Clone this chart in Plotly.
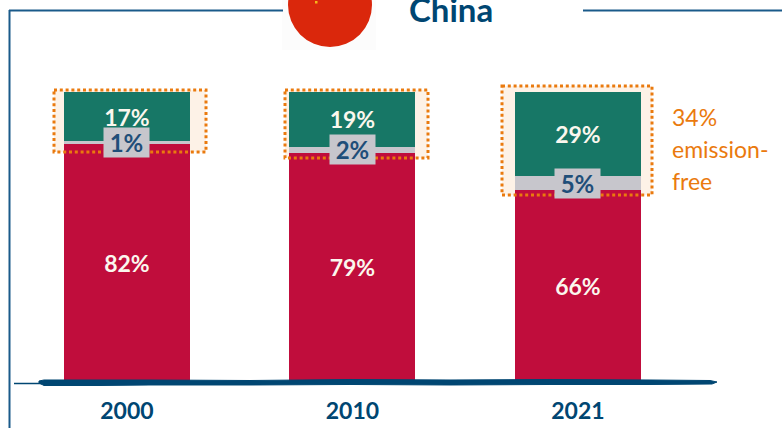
import plotly.graph_objects as go

W, H = 782, 428
years = ["2000", "2010", "2021"]
fossil = [82, 79, 66]
nuclear = [1, 2, 5]
renewables = [17, 19, 29]

RED, GREEN, GREY = "#c00d3c", "#177766", "#c7c6cc"
NAVY, FRAME, ORANGE = "#004672", "#1a5a8a", "#ea7a0e"
LABEL_BLUE = "#1f4e79"
FONT = "Lato"


def px(x):
    return x / W


def py(y):
    return 1 - y / H


def pct(vals):
    return [f"{v}%" for v in vals]


fig = go.Figure()
for name, vals, color, text in [
    ("Fossil", fossil, RED, pct(fossil)),
    ("Nuclear", nuclear, GREY, None),
    ("Renewables", renewables, GREEN, pct(renewables)),
]:
    fig.add_bar(
        x=years, y=vals, name=name, marker=dict(color=color, line=dict(width=0)),
        text=text, textposition="inside" if text else None,
        textangle=0, insidetextanchor="middle", constraintext="none",
        insidetextfont=dict(family=FONT, size=23, color="#fbf7ee", weight="bold"),
        hoverinfo="skip",
    )

annotations = []
for i, (f, n) in enumerate(zip(fossil, nuclear)):
    annotations.append(dict(
        x=i, y=f + n / 2, xref="x", yref="y", text=f"{n}%", showarrow=False,
        width=43, height=27, bgcolor=GREY, valign="middle",
        font=dict(family=FONT, size=24, color=LABEL_BLUE, weight="bold"),
    ))

annotations.append(dict(
    x=px(407), y=py(31), xref="paper", yref="paper", xanchor="left", yanchor="bottom",
    text="<b>China</b>", showarrow=False,
    font=dict(family=FONT, size=33, color=NAVY),
))
for txt, yy in [("34%", 117), ("emission-", 149), ("free", 181)]:
    annotations.append(dict(
        x=px(670), y=py(yy), xref="paper", yref="paper", xanchor="left", yanchor="middle",
        text=txt, showarrow=False, font=dict(family=FONT, size=23, color=ORANGE),
    ))


def pline(x0, y0, x1, y1, color, width):
    return dict(type="line", xref="paper", yref="paper", x0=px(x0), y0=py(y0), x1=px(x1), y1=py(y1),
                line=dict(color=color, width=width), layer="above")


shapes = [
    pline(9, 10.5, 283, 10.5, FRAME, 2),
    pline(583, 10.5, 782, 10.5, FRAME, 2),
    pline(9.5, 10, 9.5, 428, FRAME, 2),
    pline(14, 383.5, 42, 383.5, NAVY, 1.5),
    # pale flag background, flag disc, star
    dict(type="rect", xref="paper", yref="paper", x0=px(282), x1=px(376), y0=py(0), y1=py(50),
         fillcolor="#fcfcfc", line=dict(width=0), layer="below"),
    dict(type="circle", xref="paper", yref="paper", x0=px(288), x1=px(372), y0=py(-37), y1=py(47),
         fillcolor="#da270c", line=dict(width=0), layer="below"),
    dict(type="rect", xref="paper", yref="paper", x0=px(315), x1=px(317.5), y0=py(1), y1=py(3.5),
         fillcolor="#f5b81a", line=dict(width=0), layer="above"),
]

# rough brush-like axis stroke
top = [(39, 381), (44, 380), (150, 380), (250, 380.5), (350, 379.5), (450, 380), (550, 379.5), (650, 380), (710, 380.5), (717, 382)]
bot = [(712, 384), (650, 384.5), (550, 384.5), (450, 385), (350, 384.5), (250, 385), (150, 385), (100, 385.5), (44, 385.5), (39, 383)]
path = "M " + " L ".join(f"{px(x):.5f},{py(y):.5f}" for x, y in top + bot) + " Z"
shapes.append(dict(type="path", xref="paper", yref="paper", path=path, fillcolor=NAVY,
                   line=dict(color=NAVY, width=1), layer="above"))

# emission-free highlight boxes
for x0, y0, x1, y1 in [(54, 90, 206, 152), (285, 90, 428, 158), (502, 86, 652, 195)]:
    shapes.append(dict(type="rect", xref="paper", yref="paper", x0=px(x0), x1=px(x1), y0=py(y0), y1=py(y1),
                       fillcolor="rgba(238,125,17,0.10)", line=dict(width=0), layer="below"))
    shapes.append(dict(type="rect", xref="paper", yref="paper", x0=px(x0), x1=px(x1), y0=py(y0), y1=py(y1),
                       fillcolor="rgba(0,0,0,0)", line=dict(color=ORANGE, width=3, dash="3px,2.8px"),
                       layer="above"))

fig.update_layout(
    width=W, height=H, barmode="stack", bargap=0.441, showlegend=False,
    paper_bgcolor="white", plot_bgcolor="rgba(0,0,0,0)",
    margin=dict(l=0, r=0, t=0, b=0, autoexpand=False),
    annotations=annotations, shapes=shapes,
    xaxis=dict(type="category", range=[-0.563, 2.905], showgrid=False, zeroline=False, showline=False,
               ticks="outside", ticklen=9, tickcolor="rgba(0,0,0,0)",
               tickfont=dict(family=FONT, size=23, color=NAVY, weight="bold")),
    yaxis=dict(range=[0, 100], domain=[47 / H, 1 - 92 / H], visible=False),
)
fig.write_html("out.html", config=dict(displayModeBar=False),
               post_script="document.body.style.margin='0';document.body.style.overflow='hidden';")
